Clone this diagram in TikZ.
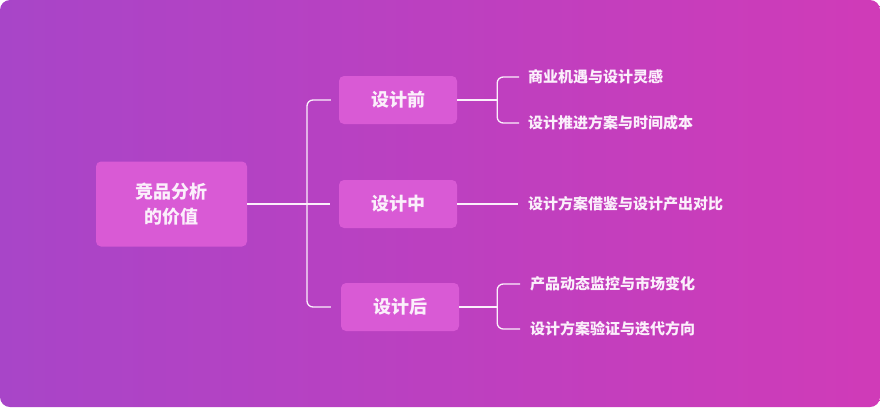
\documentclass[tikz,border=0pt]{standalone}
\usepackage{fontspec}
\setmainfont{Noto Sans CJK SC}
\usetikzlibrary{positioning,calc}
\definecolor{BgLeft}{HTML}{A845C8}
\definecolor{BgRight}{HTML}{D03BB8}
\definecolor{BoxFill}{HTML}{D95AD5}
\definecolor{InkLight}{HTML}{FBEFFB}
\tikzset{
  rootbox/.style={rectangle, rounded corners=5pt, fill=BoxFill, text=InkLight,
             minimum width=151pt, minimum height=85pt, align=center,
             font=\fontsize{18}{25}\selectfont\bfseries},
  stagebox/.style={rectangle, rounded corners=5pt, fill=BoxFill, text=InkLight,
             minimum width=118pt, minimum height=48pt,
             font=\fontsize{18}{20}\selectfont\bfseries},
  leaf/.style={anchor=west, inner sep=0pt, text=InkLight,
             font=\fontsize{15}{16}\selectfont\bfseries},
  link/.style={draw=InkLight, line width=1.3pt},
  bracket/.style={link, rounded corners=6pt},
}
\begin{document}
\begin{tikzpicture}[x=1pt, y=-1pt]
\useasboundingbox (0,0) rectangle (880,407);
\fill[white] (0,0) rectangle (880,407);
\shade[left color=BgLeft, right color=BgRight, rounded corners=10pt] (0,0) rectangle (880,407);
% boxes
\node[rootbox] (root) at (171.5,204) {竞品分析\\的价值};
\node[stagebox] (pre) at (398,100) {设计前};
\node[stagebox] (mid) at (398,204) {设计中};
\node[stagebox] (post) at (400,307) {设计后};
% leaves
\node[leaf] (pre1) at (528,77) {商业机遇与设计灵感};
\node[leaf] (pre2) at (528,123) {设计推进方案与时间成本};
\node[leaf] (mid1) at (528,204) {设计方案借鉴与设计产出对比};
\node[leaf] (post1) at (530,284) {产品动态监控与市场变化};
\node[leaf] (post2) at (530,329) {设计方案验证与迭代方向};
% left bracket
\coordinate (hub) at (307,204);
\draw[link] (root.east) -- ($(mid.west)+(-9,0)$);
\draw[bracket] ($(pre.west)+(-8,0)$) -| (hub) |- ($(post.west)+(-10,0)$);
% right brackets
\coordinate (preHub) at ($(pre.east)+(40,0)$);
\draw[link] (pre.east) -- (preHub);
\draw[bracket] ($(pre1.west)+(-9,0)$) -| (preHub) |- ($(pre2.west)+(-9,0)$);
\draw[link] (mid.east) -- ($(mid1.west)+(-10,0)$);
\coordinate (postHub) at ($(post.east)+(38,0)$);
\draw[link] (post.east) -- (postHub);
\draw[bracket] ($(post1.west)+(-10,0)$) -| (postHub) |- ($(post2.west)+(-10,0)$);
\end{tikzpicture}
\end{document}
